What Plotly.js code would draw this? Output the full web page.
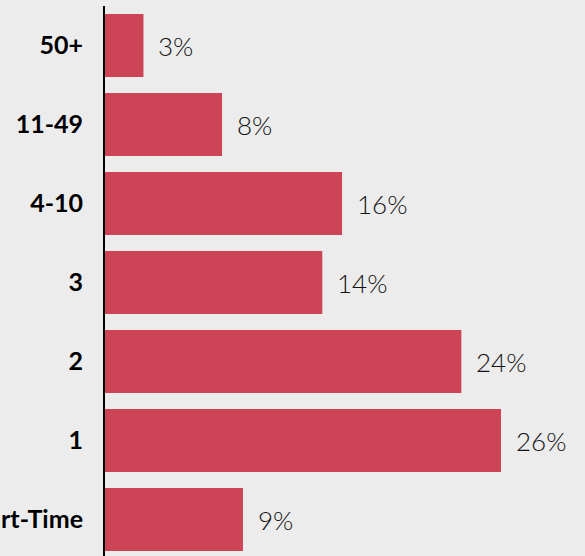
<!DOCTYPE html>
<html>
<head>
<meta charset="utf-8">
<script src="https://cdn.plot.ly/plotly-3.0.1.min.js"></script>
<style>html,body{margin:0;padding:0;background:#ececec;}</style>
</head>
<body>
<div id="chart" style="width:585px;height:556px;"></div>
<script>
const categories = ["Part-Time", "1", "2", "3", "4-10", "11-49", "50+"];
const values = [9.15, 26.26, 23.63, 14.41, 15.72, 7.76, 2.55];
const valueLabels = ["9%", "26%", "24%", "14%", "16%", "8%", "3%"];

const barColor = "#cd4457";

const trace = {
  type: "bar",
  orientation: "h",
  y: categories,
  x: values,
  marker: {color: barColor, line: {width: 0}},
  hoverinfo: "none"
};

const annotations = categories.map((c, i) => ({
  x: values[i],
  y: c,
  xref: "x",
  yref: "y",
  text: valueLabels[i],
  showarrow: false,
  xanchor: "left",
  yanchor: "middle",
  xshift: 13,
  font: {family: "Lato, 'Open Sans', sans-serif", size: 26, color: "#111111", weight: 300}
}));

const layout = {
  width: 585,
  height: 556,
  margin: {l: 105, r: 0, t: 6, b: 0, pad: 0},
  paper_bgcolor: "#ececec",
  plot_bgcolor: "#ececec",
  showlegend: false,
  bargap: 0.2,
  xaxis: {
    range: [0, 31.83],
    showgrid: false,
    zeroline: false,
    showticklabels: false,
    showline: false,
    ticks: ""
  },
  yaxis: {
    type: "category",
    range: [-0.462, 6.5],
    showgrid: false,
    zeroline: false,
    showline: true,
    linecolor: "#000000",
    linewidth: 2,
    ticks: "",
    ticklabelstandoff: 15,
    tickfont: {family: "Lato, 'Open Sans', sans-serif", size: 25, color: "#000000", weight: 700}
  },
  annotations: annotations
};

Plotly.newPlot("chart", [trace], layout, {displayModeBar: false, staticPlot: true});
</script>
</body>
</html>
